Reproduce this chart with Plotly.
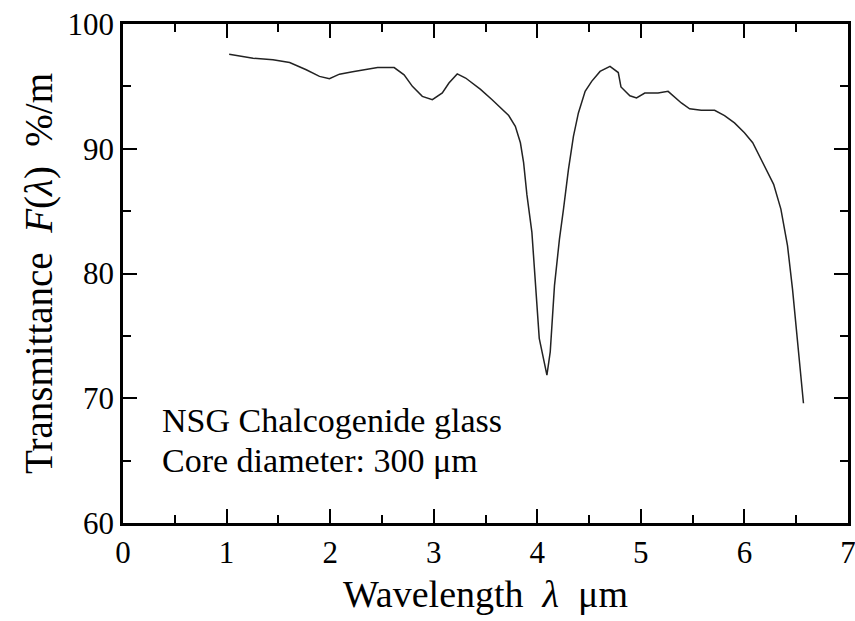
import plotly.graph_objects as go

wavelength = [1.025, 1.256, 1.448, 1.609, 1.769, 1.897, 1.993, 2.090, 2.217, 2.346,
              2.458, 2.618, 2.714, 2.794, 2.890, 2.987, 3.083, 3.147, 3.227, 3.308,
              3.452, 3.564, 3.676, 3.724, 3.788, 3.837, 3.868, 3.900, 3.948, 3.987,
              4.019, 4.093, 4.125, 4.166, 4.214, 4.253, 4.301, 4.349, 4.397, 4.462,
              4.525, 4.606, 4.702, 4.782, 4.808, 4.894, 4.958, 5.038, 5.166, 5.263,
              5.391, 5.471, 5.583, 5.712, 5.808, 5.904, 6.000, 6.080, 6.144, 6.224,
              6.282, 6.352, 6.416, 6.464, 6.506, 6.544, 6.570]
transmittance = [97.58, 97.26, 97.13, 96.91, 96.33, 95.80, 95.61, 95.98, 96.17, 96.33,
                 96.51, 96.51, 95.93, 95.00, 94.20, 93.93, 94.47, 95.27, 96.00, 95.67,
                 94.76, 93.93, 93.00, 92.66, 91.80, 90.48, 88.88, 86.30, 83.30, 79.03,
                 74.80, 71.85, 73.72, 79.03, 82.76, 85.16, 88.35, 91.00, 92.87, 94.60,
                 95.40, 96.20, 96.60, 96.11, 94.95, 94.25, 94.07, 94.47, 94.47, 94.60,
                 93.67, 93.20, 93.08, 93.08, 92.66, 92.07, 91.28, 90.48, 89.41, 88.08,
                 87.15, 85.16, 82.23, 78.77, 75.30, 72.13, 69.60]

x_ticks = [0, 1, 2, 3, 4, 5, 6, 7]
y_ticks = [60, 70, 80, 90, 100]
note_lines = ["NSG Chalcogenide glass", "Core diameter: 300 \u03bcm"]

FONT = "Liberation Serif"
NB = "\u00a0"
X_RANGE = [0, 7]
Y_RANGE = [60, 100]

fig = go.Figure()
fig.add_trace(go.Scatter(x=wavelength, y=transmittance, mode="lines",
                         line=dict(color="#222222", width=1.5), showlegend=False))

axis_common = dict(
    showline=True, linecolor="black", linewidth=2.5, mirror="allticks",
    ticks="inside", ticklen=14, tickwidth=2, tickcolor="#000000",
    showgrid=False, zeroline=False, ticklabeloverflow="allow",
    tickfont=dict(family=FONT, size=31, color="black"),
)
x_minor = dict(dtick=0.5, ticks="inside", ticklen=8, tickwidth=2, tickcolor="#000000")
y_minor = dict(dtick=5, ticks="inside", ticklen=8, tickwidth=2, tickcolor="#000000")

fig.update_layout(
    xaxis=dict(
        range=X_RANGE, tickvals=x_ticks, ticktext=[str(v) for v in x_ticks], minor=x_minor,
        title=dict(text="Wavelength" + NB * 2 + "<i>\u03bb</i>" + NB * 2 + "\u03bcm",
                   font=dict(family=FONT, size=38, color="black"), standoff=12),
        **axis_common,
    ),
    yaxis=dict(
        range=Y_RANGE, tickvals=y_ticks, ticktext=[str(v) for v in y_ticks], minor=y_minor,
        title=dict(text="Transmittance" + NB * 2 + "<i>F</i>(<i>\u03bb</i>)" + NB * 2 + "%/m",
                   font=dict(family=FONT, size=39, color="black"), standoff=3),
        **axis_common,
    ),
)

fig.add_annotation(x=0.36, y=68.2, xref="x", yref="y", xanchor="left", yanchor="middle",
                   text=note_lines[0], showarrow=False, align="left",
                   font=dict(family=FONT, size=34, color="black"))
fig.add_annotation(x=0.36, y=65.0, xref="x", yref="y", xanchor="left", yanchor="middle",
                   text=note_lines[1], showarrow=False, align="left",
                   font=dict(family=FONT, size=34, color="black"))

fig.update_layout(
    width=855, height=621,
    margin=dict(l=123, r=7, t=24, b=98, autoexpand=False),
    plot_bgcolor="white", paper_bgcolor="white",
)

fig.write_html("out.html", config={"displayModeBar": False},
               post_script="document.body.style.margin='0';")
